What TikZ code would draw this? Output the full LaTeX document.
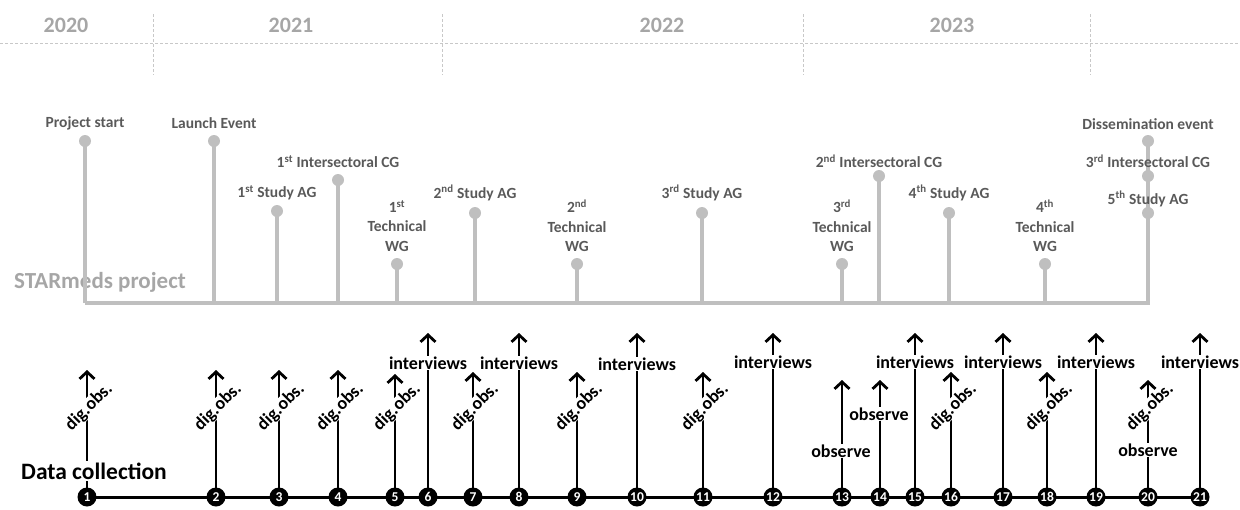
\documentclass[tikz,border=0pt]{standalone}
\usepackage{fontspec}
\setmainfont{Carlito}
\usetikzlibrary{arrows.meta}
\definecolor{yeargray}{HTML}{A6A6A6}
\definecolor{gridgray}{HTML}{C8C8C8}
\definecolor{projgray}{HTML}{BFBFBF}
\definecolor{labgray}{HTML}{595959}
\begin{document}
\begin{tikzpicture}[x=1pt,y=-1pt,
  yearlab/.style={font=\fontsize{22}{24}\selectfont\bfseries, text=yeargray},
  gridline/.style={draw=gridgray, line width=0.8pt, dash pattern=on 3pt off 2pt},
  projline/.style={draw=projgray, line width=4pt},
  pdot/.style={circle, fill=projgray, minimum size=12pt, inner sep=0pt},
  plab/.style={font=\fontsize{15.5}{19.5}\selectfont\bfseries, text=labgray, align=center, inner sep=0pt},
  dcline/.style={draw=black, line width=3pt},
  cnum/.style={circle, fill=black, minimum size=19pt, inner sep=0pt, text=white, font=\fontsize{13.5}{13.5}\selectfont\bfseries},
  arr/.style={draw=black, line width=2.8pt, -{Straight Barb[length=7pt,width=15pt]}},
  dlab/.style={font=\fontsize{18}{18}\selectfont\bfseries, fill=white, inner sep=1pt},
  digobs/.style={dlab, rotate=45, inner sep=0.3pt}
]
\useasboundingbox (0,0) rectangle (1240,509);
% year grid
\coordinate (gl) at (0,43); \coordinate (gr) at (1240,43);
\draw[gridline] (gl) -- (gr);
\foreach \x [count=\i] in {153,442,803,1090}{
  \coordinate (gt\i) at (\x,14); \coordinate (gb\i) at (\x,75);
  \draw[gridline] (gt\i) -- (gb\i);
}
\node[yearlab] (y2020) at (66,25) {2020};
\node[yearlab] (y2021) at (291,25) {2021};
\node[yearlab] (y2022) at (662,25) {2022};
\node[yearlab] (y2023) at (952,25) {2023};

% project timeline
\coordinate (pl) at (85,303); \coordinate (pr) at (1150,303);
\draw[projline] (pl) -- (pr);
\node[font=\fontsize{23}{23}\selectfont\bfseries, text=yeargray, inner sep=0pt] (proj) at (100,282) {STARmeds project};
\foreach \n/\x/\y in {1/85/141,2/214/141,3/277/211,4/338/180,5/397/264,6/475/213,7/577/264,8/702/213,9/842/264,10/879/176,11/949/213,12/1045/264,13/1148/213}{
  \coordinate (pb\n) at (\x,303);
  \node[pdot] (pd\n) at (\x,\y) {};
  \draw[projline] (pb\n) -- (pd\n.center);
}
\coordinate (pd14c) at (1148,176);
\coordinate (pd15c) at (1148,141);
\draw[projline] (pd13.center) -- (pd15c);
\node[pdot] (pd14) at (pd14c) {};
\node[pdot] (pd15) at (pd15c) {};

\node[plab] (l1) at (85,123) {Project start};
\node[plab] (l2) at (214,123) {Launch Event};
\node[plab] (l3) at (277,193) {1\textsuperscript{st} Study AG};
\node[plab] (l4) at (338,162) {1\textsuperscript{st} Intersectoral CG};
\node[plab] (l5) at (397,226) {1\textsuperscript{st}\\Technical\\WG};
\node[plab] (l6) at (475,193) {2\textsuperscript{nd} Study AG};
\node[plab] (l7) at (577,226) {2\textsuperscript{nd}\\Technical\\WG};
\node[plab] (l8) at (702,193) {3\textsuperscript{rd} Study AG};
\node[plab] (l9) at (842,226) {3\textsuperscript{rd}\\Technical\\WG};
\node[plab] (l10) at (879,161) {2\textsuperscript{nd} Intersectoral CG};
\node[plab] (l11) at (949,193) {4\textsuperscript{th} Study AG};
\node[plab] (l12) at (1045,226) {4\textsuperscript{th}\\Technical\\WG};
\node[plab] (l13) at (1148,199) {5\textsuperscript{th} Study AG};
\node[plab] (l14) at (1148,161) {3\textsuperscript{rd} Intersectoral CG};
\node[plab] (l15) at (1148,124) {Dissemination event};

% data collection: base points and arrow tips
\foreach \n/\x/\y in {1/87/370,2/216/370,3/279/370,4/338/370,5/395/374,6/428/333,7/473/372,8/519/333,9/577/372,10/637/333,11/703/372,12/773/333,13/842/380,14/880/380,15/915/333,16/951/372,17/1003/333,18/1047/372,19/1096/333,20/1148/380,21/1200/333}{
  \coordinate (cc\n) at (\x,497);
  \coordinate (tp\n) at (\x,\y);
  \draw[arr] (cc\n) -- (tp\n);
}
\draw[dcline] (cc1) -- (cc21);
\foreach \n in {1,...,21}{
  \node[cnum] (c\n) at (cc\n) {\n};
}
% labels
\node[dlab, font=\fontsize{23.5}{24}\selectfont\bfseries, inner sep=2pt] (dc) at (94,471) {Data collection};
\foreach \n/\x in {1/89,2/218,3/281,4/340,5/397,7/475,9/579,11/705,16/953,18/1049,20/1150}{
  \node[digobs] (d\n) at (\x,407) {dig.obs.};
}
\foreach \n/\y in {6/363,8/363,10/364,12/362,15/362,17/362,19/362,21/362}{
  \path (cc\n) ++(0,\y-497) node[dlab] (iv\n) {interviews};
}
\node[dlab] (ob13) at (841,451) {observe};
\node[dlab] (ob14) at (879,414) {observe};
\node[dlab] (ob20) at (1148,450) {observe};
\end{tikzpicture}
\end{document}
